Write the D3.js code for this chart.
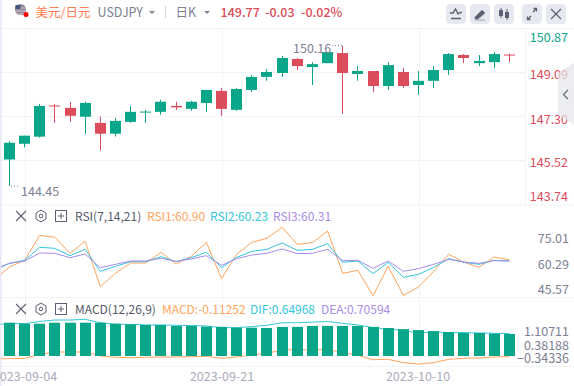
<!DOCTYPE html>
<html><head><meta charset="utf-8">
<style>html,body{margin:0;padding:0;background:#fff}svg{display:block}text{font-family:"Noto Sans CJK SC","Noto Sans",sans-serif}</style>
<script src="https://cdn.jsdelivr.net/npm/d3@7/dist/d3.min.js"></script>
</head><body><svg id="c" width="574" height="386"></svg>
<script>
const opens=[145.53,146.17,146.46,147.73,147.63,147.27,147.02,146.58,147.06,147.44,147.47,147.71,147.59,147.83,148.32,147.55,148.36,148.89,149.05,149.62,149.29,149.45,149.86,149.01,149.13,148.52,149.09,148.56,148.73,149.17,149.78,149.45,149.49,149.80];
const highs=[146.28,146.50,147.79,147.78,147.88,147.88,147.27,147.23,147.71,147.55,147.96,147.88,147.92,148.36,148.44,148.44,148.97,149.21,149.74,149.66,149.49,149.90,150.16,149.33,149.13,149.49,149.25,149.13,149.33,149.86,149.82,149.78,149.90,149.83];
const lows=[144.45,146.02,146.42,147.02,147.06,146.58,145.89,146.46,147.02,147.02,147.35,147.55,147.51,147.47,147.31,147.51,148.28,148.73,148.89,149.17,148.56,149.45,147.39,148.73,148.28,148.36,148.44,148.16,148.44,148.97,149.45,149.33,149.25,149.49];
const closes=[146.21,146.50,147.71,147.69,147.31,147.83,146.58,147.10,147.47,147.48,147.88,147.65,147.88,148.36,147.59,148.40,148.89,149.09,149.66,149.33,149.41,149.90,149.05,149.13,148.52,149.37,148.52,148.73,149.17,149.82,149.66,149.54,149.82,149.77];
// indicator series start one session before the first visible candle
const rsi1=[49.31,56.82,60.68,75.13,73.97,64.72,71.66,45.45,53.16,59.13,59.13,65.30,58.56,62.99,71.08,50.08,64.14,71.08,73.39,79.75,69.93,70.89,77.63,53.16,54.89,40.25,57.21,40.44,45.26,54.32,64.14,59.52,56.63,62.60,60.90];
const rsi2=[55.09,58.94,60.68,68.19,67.61,63.37,67.03,54.32,57.21,59.90,59.90,62.80,59.90,62.22,65.30,56.44,62.41,65.88,67.03,70.70,66.46,67.03,70.31,59.52,60.29,52.97,59.52,50.85,52.58,56.63,61.64,59.52,58.36,60.68,60.23];
const rsi3=[55.67,58.94,60.29,64.91,64.72,62.22,64.34,56.44,58.36,60.29,60.29,61.83,60.10,61.45,63.37,57.78,61.64,63.76,64.72,67.23,64.53,64.72,67.03,60.48,60.68,56.05,60.29,54.32,55.86,58.36,61.25,59.71,58.94,60.48,60.31];
const macdBars=[1.04,1.01,1.01,1.04,1.04,1.04,1.04,1.01,.99,.97,.97,.94,.94,.92,.91,.885,.885,.875,.91,.91,.94,.94,.94,.94,.91,.875,.84,.81,.78,.75,.72,.72,.70,.69];
const dif=[.96,1.02,1.01,1.08,1.125,1.125,1.146,1.04,.99,.99,.97,.97,.96,.95,.94,.885,.885,.92,.96,1.04,1.04,1.06,1.08,1.02,.97,.885,.84,.80,.71,.75,.73,.73,.72,.71,.70];
const macdLine=[-.083,-.083,-.073,.052,.125,.125,.125,0,-.042,-.052,-.042,-.031,-.031,-.021,-.01,-.073,-.031,.031,.083,.188,.198,.188,.208,.104,.021,-.115,-.104,-.208,-.25,-.208,-.104,-.073,-.063,-.031,-.021];
const priceTicks=[150.87,149.09,147.30,145.52,143.74];
const rsiTicks=[75.01,60.29,45.57];
const macdTicks=[1.10711,0.38188,-0.34336];
const dateLabels=["2023-09-04","2023-09-21","2023-10-10"];
const dateIndex=[1,14,27];

const GREEN="#0aa689",RED="#dc4c5a",GRID="#f2f3f7",ORANGE="#ffa45c",CYAN="#35c6dc",PURPLE="#a88bea",GREY="#7c8092";
const svg=d3.select("#c");
const x=d3.scaleLinear().domain([0,33]).range([9.4,509.4]);
const yP=d3.scaleLinear().domain([149.09,147.30]).range([72,116]);
const yR=d3.scaleLinear().domain([60.29,45.57]).range([261,286.5]);
const yM=d3.scaleLinear().domain([0,1]).range([356,324]);
const hl=(x1,x2,y,c)=>svg.append("line").attr("x1",x1).attr("x2",x2).attr("y1",y+.5).attr("y2",y+.5).attr("stroke",c||GRID);
const vl=(x0,y1,y2,c)=>svg.append("line").attr("x1",x0+.5).attr("x2",x0+.5).attr("y1",y1).attr("y2",y2).attr("stroke",c||GRID);
const txt=(s,xx,yy,fill,size,anchor,weight)=>svg.append("text").attr("x",xx).attr("y",yy).attr("fill",fill).attr("font-size",size||12).attr("text-anchor",anchor||"start").attr("font-weight",weight||400).attr("dominant-baseline","central").text(s);

// frame and grid
svg.append("rect").attr("width",1.5).attr("height",386).attr("fill","#e6e9f4");
hl(2,574,28);hl(2,574,204.5);hl(2,574,297);hl(2,574,366);
[72,116,160].forEach(g=>hl(2,525,g));
vl(525,28,205);
dateIndex.forEach(i=>{const px=Math.round(x(i)+.1);vl(px,28,366);});

// candles
const cg=svg.append("g");
opens.forEach((o,i)=>{
  const c=closes[i],col=c>=o?GREEN:RED,cx=Math.round(x(i)-.5)+.5;
  cg.append("line").attr("x1",cx).attr("x2",cx).attr("y1",yP(highs[i])).attr("y2",yP(lows[i])).attr("stroke",col);
  const top=yP(Math.max(o,c)),h=Math.max(1,Math.abs(yP(o)-yP(c)));
  cg.append("rect").attr("x",cx-5.5).attr("width",11).attr("y",top).attr("height",h).attr("fill",col);
});
const dotted=(x1,x2,y)=>svg.append("line").attr("x1",x1).attr("x2",x2).attr("y1",y).attr("y2",y).attr("stroke",GREY).attr("stroke-dasharray","1 2");
dotted(332,342,yP(150.16));dotted(11,20,yP(144.45));
txt("150.16",293,47.5,GREY,12.5);
txt("144.45",21,190,GREY,12.5);

// axes labels via d3 axes
function axis(scale,ticks,fmt,offsets,colors,xp){
  const g=svg.append("g").attr("transform",`translate(${xp},0)`).call(d3.axisRight(scale).tickValues(ticks).tickFormat(fmt).tickSize(0).tickPadding(0));
  g.select(".domain").remove();
  g.selectAll("text").attr("font-size",12.5).attr("text-anchor","end").attr("x",0).style("font-family",'"Noto Sans CJK SC","Noto Sans",sans-serif')
   .attr("dy",0).attr("dominant-baseline","central").attr("y",(d,i)=>offsets[i]).attr("fill",(d,i)=>colors(i));
}
axis(yP,priceTicks,d3.format(".2f"),[8,1,2,1.5,-9],i=>i==0?GREEN:RED,568);
axis(yR,rsiTicks,d3.format(".2f"),[1.5,2,1.5],i=>GREY,569);
axis(yM,macdTicks,d3.format(".5f"),[9.5,0,-10],i=>GREY,569);

// RSI
const line=y=>d3.line().x((d,i)=>x(i-1)).y(d=>y(d));
const defs=svg.append("defs");
defs.append("clipPath").attr("id","p").append("rect").attr("x",1).attr("y",200).attr("width",573).attr("height",186);
const pl=svg.append("g").attr("clip-path","url(#p)");
[[rsi1,ORANGE],[rsi2,CYAN],[rsi3,PURPLE]].forEach(([d,c])=>pl.append("path").attr("d",line(yR)(d)).attr("fill","none").attr("stroke",c).attr("stroke-width",1));

// MACD
[[dif,CYAN],[macdLine,ORANGE]].forEach(([d,c])=>pl.append("path").attr("d",line(yM)(d)).attr("fill","none").attr("stroke",c).attr("stroke-width",1));
macdBars.forEach((v,i)=>{
  const cx=Math.round(x(i)-.5)+.5;
  svg.append("rect").attr("x",cx-5.5).attr("width",11).attr("y",yM(v)).attr("height",yM(0)-yM(v)).attr("fill",GREEN);
});

// date labels
dateLabels.forEach((s,i)=>txt(s,Math.round(x(dateIndex[i])),375,"#a9adbb",12.5,"middle"));

// sidebar handle
svg.append("path").attr("d","M574,63L558,73V115L574,125Z").attr("fill","#e4e5ea").attr("fill-opacity",.7);
svg.append("path").attr("d","M568,90L563.5,94.5L568,99").attr("fill","none").attr("stroke","#6d7080").attr("stroke-width",1.4);

// header
svg.append("circle").attr("cx",20.5).attr("cy",9.5).attr("r",5.5).attr("fill","#8a90a8");
svg.append("path").attr("d","M15,8H26M15.5,11H25.5M17,14H24").attr("stroke","#e9b3b3").attr("stroke-width",1.2);
svg.append("path").attr("d","M15.5,5H20.5V9H15Z").attr("fill","#4a5680");
svg.append("circle").attr("cx",26).attr("cy",14.5).attr("r",2.5).attr("fill","#f00");
txt("美元/日元",35.5,11,"#ff7d50",12.5);
txt("USDJPY",97.5,11,GREY,12.5);
const caret=(cx,cy)=>svg.append("path").attr("d",`M${cx-3},${cy-1.5}H${cx+3}L${cx},${cy+1.5}Z`).attr("fill",GREY);
caret(152,12.5);caret(207,12.5);
vl(165,6,18,"#d5d7de");
txt("日K",175.5,11,GREY,12.5);
txt("149.77",220.5,11,RED,12.5,"start",500);
txt("-0.03",265,11,RED,12.5,"start",500);
txt("-0.02%",301,11,RED,12.5,"start",500);

// toolbar buttons
const BTN="#e7e9f0",IC="#5c6072";
[446,470,494,522,546].forEach(bx=>svg.append("rect").attr("x",bx).attr("y",4).attr("width",20).attr("height",20).attr("rx",4).attr("fill",BTN));
svg.append("path").attr("d","M450,13H453L455.5,9L458,14L460,12.5H462M451,18.5H461").attr("fill","none").attr("stroke",IC).attr("stroke-width",1.4);
svg.append("path").attr("d","M475,17L482,10L485,13L478,19H475ZM475,20H485").attr("fill",IC).attr("stroke",IC).attr("stroke-width",.5);
svg.append("path").attr("d","M501,8V18M507,9V20").attr("stroke",IC);
svg.append("rect").attr("x",499).attr("y",10).attr("width",4).attr("height",6).attr("fill",IC);
svg.append("rect").attr("x",505).attr("y",12).attr("width",4).attr("height",6).attr("fill",IC);
svg.append("path").attr("d","M528,19L531,16M533,12L536,9M533.5,8.5H536.5V11.5M527.5,16.5V19.5H530.5").attr("fill","none").attr("stroke",IC).attr("stroke-width",1.3);
svg.append("path").attr("d","M551,9L561,19M561,9L551,19").attr("stroke",IC).attr("stroke-width",1.2);

// panel toolbars
function tools(y){
  svg.append("path").attr("d",`M16,${y-5}L26,${y+5}M26,${y-5}L16,${y+5}`).attr("stroke","#5c6072").attr("stroke-width",1.1);
  svg.append("path").attr("d",`M41,${y-6}L46,${y-3}V${y+3}L41,${y+6}L36,${y+3}V${y-3}Z`).attr("fill","none").attr("stroke","#5c6072");
  svg.append("circle").attr("cx",41).attr("cy",y).attr("r",1.8).attr("fill","none").attr("stroke","#5c6072");
  svg.append("rect").attr("x",55.5).attr("y",y-5.5).attr("width",11).attr("height",11).attr("fill","none").attr("stroke","#5c6072");
  svg.append("path").attr("d",`M58,${y}H64M61,${y-3}V${y+3}`).attr("stroke","#5c6072");
}
tools(216);tools(309);
txt("RSI(7,14,21)",75,215.5,"#555a68",12);
txt("RSI1:60.90",147,215.5,ORANGE,12);
txt("RSI2:60.23",210,215.5,CYAN,12);
txt("RSI3:60.31",273,215.5,PURPLE,12);
txt("MACD(12,26,9)",75,308.5,"#555a68",12);
txt("MACD:-0.11252",162,308.5,ORANGE,12);
txt("DIF:0.64968",250,308.5,CYAN,12);
txt("DEA:0.70594",321,308.5,PURPLE,12);
</script></body></html>
